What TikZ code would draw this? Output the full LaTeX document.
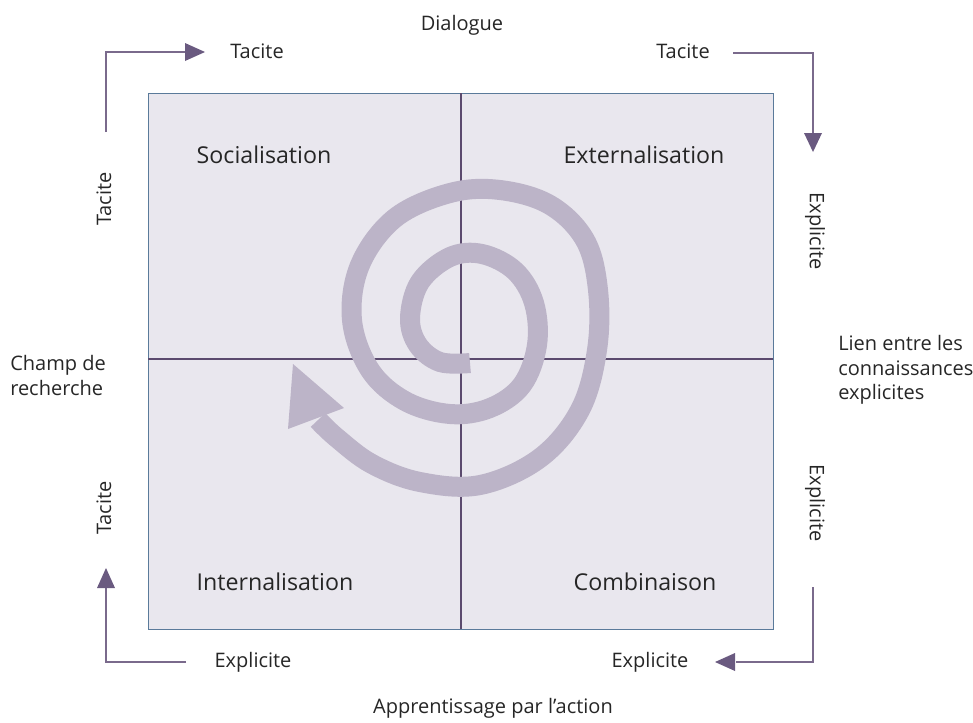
\documentclass[tikz,border=0pt]{standalone}
\usepackage{fontspec}
\setmainfont{Open Sans}
\begin{document}
\begin{tikzpicture}[x=0.75pt,y=-0.75pt,
  lbl/.style={font=\fontsize{15}{18}\selectfont, text=black!85, inner sep=0pt},
  quad/.style={font=\fontsize{17.4}{20}\selectfont, text=black!85, inner sep=0pt},
  arr/.style={draw=arrowc, line width=1.1pt},
  head/.style={fill=headc, draw=none}]
\definecolor{boxfill}{HTML}{E9E7EE}
\definecolor{boxline}{HTML}{5A7A9A}
\definecolor{divc}{HTML}{5B4A6E}
\definecolor{spir}{HTML}{BCB4C8}
\definecolor{arrowc}{HTML}{7A6A8C}
\definecolor{headc}{HTML}{6A5A80}
\useasboundingbox (0,0) rectangle (973,722);
% box
\node[draw=boxline, fill=boxfill, line width=0.8pt, minimum width=625*0.75pt, minimum height=536*0.75pt, inner sep=0pt, anchor=north west] (box) at (148,93) {};
\coordinate (t) at (461,93); \coordinate (b) at (461,629);
\coordinate (l) at (148,359); \coordinate (r) at (773,359);
\draw[divc, line width=1.5pt] (t) -- (b);
\draw[divc, line width=1.5pt] (l) -- (r);
% spiral
\draw[spir, line width=15pt, line join=round] plot[smooth, tension=0.6] coordinates {
(470,363) (440,362) (418,345) (410,318) (420,282) (450,257) (482,254) (515,271) (534,303) (537,345) (522,385) (490,408) (450,414) (405,401) (370,370) (352,320) (360,265) (395,218) (450,193) (500,190) (550,205) (585,240) (598,290) (597,350) (580,410) (540,458) (480,485) (420,482) (372,464) (337,438) (318,420)};
\fill[spir] (293,364) -- (344,408) -- (288,429) -- cycle;
% quadrant labels
\node[quad] (soc) at (264,155) {Socialisation};
\node[quad] (ext) at (644,155) {Externalisation};
\node[quad] (int) at (275,582) {Internalisation};
\node[quad] (com) at (645,582) {Combinaison};
% outer labels
\node[lbl] (dia) at (462,25) {Dialogue};
\node[lbl] (t1) at (257,51) {Tacite};
\node[lbl] (t2) at (683,51) {Tacite};
\node[lbl, rotate=90] (t3) at (104,199) {Tacite};
\node[lbl, rotate=90] (t4) at (104,508) {Tacite};
\node[lbl, rotate=-90] (e1) at (815,231) {Explicite};
\node[lbl, rotate=-90] (e2) at (815,503) {Explicite};
\node[lbl] (e3) at (253,662) {Explicite};
\node[lbl] (e4) at (650,662) {Explicite};
\node[lbl] (app) at (493,708) {Apprentissage par l’action};
\node[lbl, anchor=west, align=left, font=\fontsize{15}{18.75}\selectfont] (champ) at (10,375) {Champ de\\recherche};
\node[lbl, anchor=west, align=left, font=\fontsize{15}{18.5}\selectfont] (lien) at (838,370) {Lien entre les\\connaissances\\explicites};
% arrows
\coordinate (a1s) at (106,132); \coordinate (a1c) at (106,52); \coordinate (a1e) at (186,52);
\draw[arr] (a1s) -- (a1c) -- (a1e);
\fill[head] (205,52) -- (185,43) -- (185,61) -- cycle;
\coordinate (a2s) at (733,53); \coordinate (a2c) at (813,53); \coordinate (a2e) at (813,134);
\draw[arr] (a2s) -- (a2c) -- (a2e);
\fill[head] (813,152) -- (804,133) -- (822,133) -- cycle;
\coordinate (a3s) at (813,587); \coordinate (a3c) at (813,662); \coordinate (a3e) at (736,662);
\draw[arr] (a3s) -- (a3c) -- (a3e);
\fill[head] (715,662) -- (735,653) -- (735,671) -- cycle;
\coordinate (a4s) at (186,662); \coordinate (a4c) at (106,662); \coordinate (a4e) at (106,588);
\draw[arr] (a4s) -- (a4c) -- (a4e);
\fill[head] (106,568) -- (97,588) -- (115,588) -- cycle;
\end{tikzpicture}
\end{document}
